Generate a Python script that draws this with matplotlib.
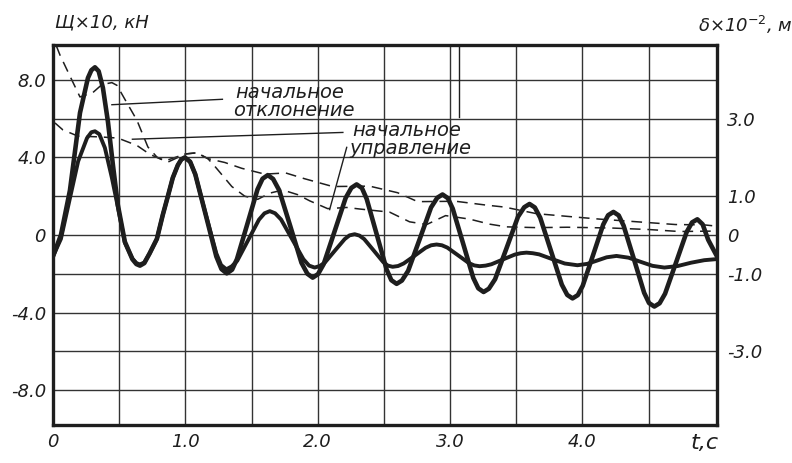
import numpy as np
import matplotlib
matplotlib.use('Agg')
import matplotlib.pyplot as plt

# thick curve 1 (large amplitude), left axis, kN x10
t_big = [0.000, 0.060, 0.128, 0.204, 0.264, 0.290, 0.317, 0.345, 0.377, 0.415,
         0.453, 0.490, 0.543, 0.600, 0.630, 0.657, 0.690, 0.730, 0.785, 0.830,
         0.868, 0.905, 0.943, 0.970, 0.996, 1.036, 1.075, 1.155, 1.234, 1.273,
         1.313, 1.353, 1.390, 1.468, 1.545, 1.583, 1.623, 1.663, 1.708, 1.793,
         1.877, 1.922, 1.962, 2.002, 2.045, 2.128, 2.211, 2.254, 2.294, 2.334,
         2.370, 2.445, 2.520, 2.556, 2.596, 2.636, 2.683, 2.770, 2.856, 2.903,
         2.943, 2.983, 3.020, 3.098, 3.175, 3.213, 3.253, 3.293, 3.340, 3.427,
         3.513, 3.560, 3.600, 3.640, 3.681, 3.763, 3.844, 3.885, 3.925, 3.965,
         4.002, 4.080, 4.157, 4.194, 4.234, 4.274, 4.311, 4.389, 4.466, 4.503,
         4.543, 4.583, 4.624, 4.706, 4.787, 4.828, 4.868, 4.908, 4.950, 5.020]
v_big = [-1.10, 0.00, 2.30, 6.30, 8.10, 8.50, 8.65, 8.45, 7.60, 5.85,
         3.60, 1.55, -0.35, -1.25, -1.50, -1.58, -1.45, -0.95, -0.20, 1.05,
         2.00, 2.95, 3.60, 3.90, 4.00, 3.78, 3.13, 1.01, -1.11, -1.76,
         -1.98, -1.79, -1.24, 0.56, 2.35, 2.90, 3.09, 2.89, 2.32, 0.45,
         -1.43, -2.00, -2.20, -2.02, -1.50, 0.20, 1.91, 2.43, 2.61, 2.42,
         1.86, 0.05, -1.77, -2.33, -2.52, -2.35, -1.85, -0.22, 1.42, 1.92,
         2.09, 1.90, 1.36, -0.43, -2.21, -2.75, -2.94, -2.77, -2.28, -0.67,
         0.94, 1.43, 1.60, 1.42, 0.89, -0.84, -2.56, -3.09, -3.27, -3.10,
         -2.62, -1.04, 0.54, 1.02, 1.19, 1.01, 0.48, -1.25, -2.98, -3.51,
         -3.69, -3.52, -3.03, -1.44, 0.15, 0.65, 0.81, 0.55, -0.25, -1.15]

# thick curve 2 (smaller amplitude), left axis
t_small = [0.000, 0.060, 0.128, 0.190, 0.257, 0.290, 0.317, 0.350, 0.392, 0.445,
           0.490, 0.543, 0.600, 0.630, 0.657, 0.690, 0.730, 0.785, 0.830, 0.868,
           0.905, 0.943, 0.970, 0.996, 1.036, 1.075, 1.155, 1.234, 1.270, 1.310,
           1.350, 1.392, 1.474, 1.556, 1.598, 1.638, 1.678, 1.723, 1.808, 1.892,
           1.935, 1.977, 2.015, 2.053, 2.128, 2.204, 2.240, 2.279, 2.315, 2.351,
           2.423, 2.494, 2.530, 2.566, 2.607, 2.649, 2.732, 2.815, 2.857, 2.898,
           2.938, 2.979, 3.061, 3.142, 3.183, 3.223, 3.268, 3.312, 3.400, 3.489,
           3.533, 3.577, 3.625, 3.673, 3.770, 3.866, 3.962, 4.036, 4.110, 4.183,
           4.257, 4.348, 4.438, 4.529, 4.619, 4.720, 4.820, 4.920, 5.020]
v_small = [-1.10, -0.20, 1.90, 3.80, 5.00, 5.30, 5.35, 5.20, 4.50, 2.95,
           1.45, -0.40, -1.22, -1.45, -1.52, -1.42, -0.95, -0.20, 1.05, 2.00,
           2.95, 3.60, 3.90, 4.00, 3.78, 3.13, 1.04, -0.95, -1.55, -1.77,
           -1.62, -1.33, -0.27, 0.79, 1.12, 1.23, 1.12, 0.80, -0.23, -1.25,
           -1.58, -1.68, -1.60, -1.43, -0.82, -0.21, -0.02, 0.04, -0.03, -0.21,
           -0.80, -1.39, -1.58, -1.64, -1.60, -1.47, -1.07, -0.66, -0.53, -0.49,
           -0.53, -0.65, -1.05, -1.45, -1.57, -1.61, -1.58, -1.51, -1.26, -1.01,
           -0.94, -0.91, -0.94, -1.00, -1.24, -1.47, -1.56, -1.49, -1.32, -1.15,
           -1.08, -1.17, -1.38, -1.59, -1.68, -1.60, -1.43, -1.30, -1.24]

# dashed curves, right axis (delta x 10^-2 m)
t_d1 = [0.025, 0.053, 0.128, 0.204, 0.300, 0.370, 0.445, 0.483, 0.543, 0.634,
        0.717, 0.785, 0.868, 1.000, 1.087, 1.170, 1.298, 1.426, 1.600, 1.758,
        1.902, 2.113, 2.392, 2.604, 2.755, 3.042, 3.275, 3.411, 3.653, 3.887,
        4.128, 4.415, 4.702, 4.921, 5.010]
d1 = [4.88, 4.64, 4.10, 3.56, 3.67, 3.88, 3.93, 3.86, 3.50, 2.96,
      2.27, 2.01, 1.88, 2.09, 2.12, 1.97, 1.87, 1.72, 1.57, 1.60,
      1.45, 1.25, 1.26, 1.09, 0.86, 0.87, 0.77, 0.72, 0.55, 0.48,
      0.41, 0.34, 0.27, 0.26, 0.23]

t_d2 = [0.015, 0.075, 0.189, 0.355, 0.490, 0.634, 0.732, 0.845, 1.000, 1.087,
        1.170, 1.223, 1.351, 1.449, 1.547, 1.638, 1.736, 1.849, 1.940, 2.075,
        2.219, 2.317, 2.543, 2.694, 2.823, 2.966, 3.147, 3.298, 3.426, 3.653,
        3.887, 4.219, 4.506, 4.732, 4.981]
d2 = [2.89, 2.71, 2.55, 2.53, 2.50, 2.31, 2.08, 1.91, 2.09, 2.12,
      1.97, 1.77, 1.25, 1.00, 0.92, 1.08, 1.16, 1.04, 0.88, 0.68,
      0.71, 0.67, 0.59, 0.34, 0.27, 0.50, 0.41, 0.28, 0.21, 0.19,
      0.20, 0.18, 0.14, 0.09, 0.10]

left_ticks = [-8, -4, 0, 4, 8]
left_labels = ['-8.0', '-4.0', '0', '4.0', '8.0']
right_ticks = [-3, -1, 0, 1, 3]
right_labels = ['-3.0', '-1.0', '0', '1.0', '3.0']
x_ticks = [0, 1, 2, 3, 4]
x_labels = ['0', '1.0', '2.0', '3.0', '4.0']

ink = '#1e1e1e'
fs = 13

fig = plt.figure(figsize=(7.92, 4.63), dpi=100)
ax = fig.add_axes([0.0669, 0.0821, 0.839, 0.8207])
ax2 = ax.twinx()
ax.set_zorder(ax2.get_zorder() + 1)
ax.patch.set_visible(False)

ax.set_xlim(0, 5.02)
ax.set_ylim(-9.8, 9.8)
ax2.set_ylim(-4.9, 4.9)

# grid
ax.set_xticks(np.arange(0.5, 5.0, 0.5), minor=True)
ax.set_yticks(np.arange(-8, 9, 2), minor=True)
ax.grid(which='minor', color='#333333', lw=1.0)
ax.grid(which='major', color='#333333', lw=1.0)

ax.set_xticks(x_ticks)
ax.set_xticklabels(x_labels, fontsize=fs, fontstyle='italic', color=ink)
ax.set_yticks(left_ticks)
ax.set_yticklabels(left_labels, fontsize=fs, fontstyle='italic', color=ink)
ax.tick_params(which='both', length=0)
ax.tick_params(axis='x', pad=6)
ax.tick_params(axis='y', pad=5)

ax2.set_yticks(right_ticks)
ax2.set_yticklabels(right_labels, fontsize=fs, fontstyle='italic', color=ink)
ax2.tick_params(length=0, pad=7)
for s in ax2.spines.values():
    s.set_visible(False)
for s in ax.spines.values():
    s.set_linewidth(2.4)
    s.set_color(ink)

# curves
ax2.plot(t_d1, d1, color=ink, lw=1.1, dashes=(7, 4.5))
ax2.plot(t_d2, d2, color=ink, lw=1.1, dashes=(7, 4.5))
ax.plot(t_small, v_small, color=ink, lw=2.8, solid_joinstyle='round', solid_capstyle='round')
ax.plot(t_big, v_big, color=ink, lw=3.3, solid_joinstyle='round', solid_capstyle='round')

# leader lines and notes
ax.plot([0.445, 1.28], [6.72, 7.0], color=ink, lw=1.0)
ax.plot([0.60, 2.19], [4.94, 5.29], color=ink, lw=1.0)
ax.plot([2.219, 2.09], [4.52, 1.31], color=ink, lw=1.0)
ax.plot([3.064, 3.064], [9.8, 6.07], color=ink, lw=1.0)

note = dict(fontsize=14, fontstyle='italic', color=ink, ha='left', va='baseline')
ax.text(1.375, 7.06, 'начальное', **note)
ax.text(1.36, 6.13, 'отклонение', **note)
ax.text(2.264, 5.09, 'начальное', **note)
ax.text(2.24, 4.16, 'управление', **note)

fig.text(55 / 792, 1 - 22 / 463, 'Щ×10, кН', fontsize=13, fontstyle='italic',
         color=ink, ha='left', va='center')
fig.text(698 / 792, 1 - 25 / 463, r'δ×10$^{-2}$, м', fontsize=13, fontstyle='italic',
         color=ink, ha='left', va='center')
fig.text(705 / 792, 1 - 443 / 463, 't,c', fontsize=16, fontstyle='italic',
         color=ink, ha='center', va='center')

fig.savefig('out.png', dpi=100)
